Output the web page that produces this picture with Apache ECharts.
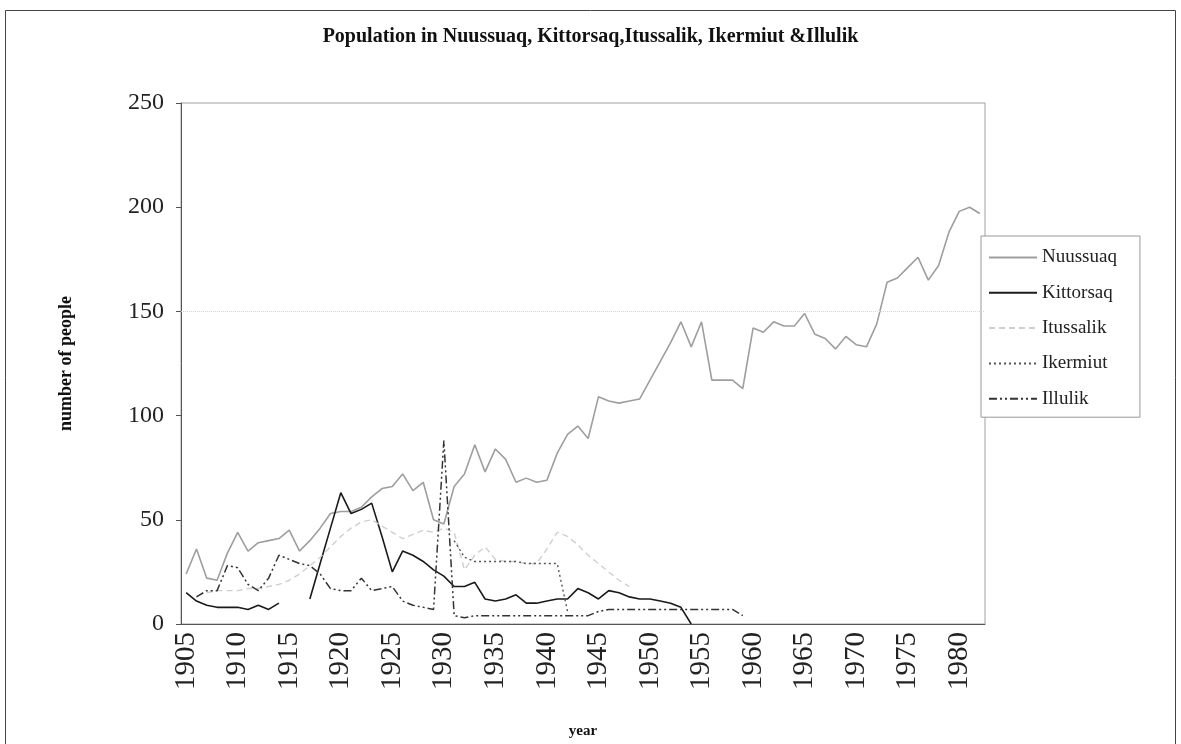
<!DOCTYPE html>
<html>
<head>
<meta charset="utf-8">
<script src="https://cdn.jsdelivr.net/npm/echarts@6/dist/echarts.min.js"></script>
<style>
  html, body { margin: 0; padding: 0; background: #fff; }
  #box { width: 1181px; height: 744px; }
</style>
</head>
<body>
<div id="box"></div>
<script>
// years on the category axis, 1905 .. 1982
var years = [];
for (var y = 1905; y <= 1982; y++) years.push(String(y));

// each series: first year with data, then one value per year
var nuussuaqStart = 1905;
var nuussuaq = [
    24, 36, 22, 21, 34, 44, 35, 39, 40, 41,
    45, 35, 40, 46, 53, 54, 54, 56, 61, 65,
    66, 72, 64, 68, 50, 48, 66, 72, 86, 73,
    84, 79, 68, 70, 68, 69, 82, 91, 95, 89,
    109, 107, 106, 107, 108, 117, 126, 135, 145, 133,
    145, 117, 117, 117, 113, 142, 140, 145, 143, 143,
    149, 139, 137, 132, 138, 134, 133, 144, 164, 166,
    171, 176, 165, 172, 188, 198, 200, 197
];
var kittorsaqStart = 1905;
var kittorsaq = [
    15, 11, 9, 8, 8, 8, 7, 9, 7, 10,
    null, null, 12, 29, 46, 63, 53, 55, 58, 42,
    25, 35, 33, 30, 26, 23, 18, 18, 20, 12,
    11, 12, 14, 10, 10, 11, 12, 12, 17, 15,
    12, 16, 15, 13, 12, 12, 11, 10, 8, 0
];
var itussalikStart = 1907;
var itussalik = [
    15, 16, 16, 16, 17, 17, 18, 19,
    21, 24, 28, 32, 37, 42, 46, 49, 50, 47,
    44, 41, 43, 45, 44, 46, 44, 26, 33, 37,
    31, 30, 30, 29, 29, 36, 44, 42, 38, 33,
    29, 25, 21, 18
];
var ikermiutStart = 1931;
var ikermiut = [40, 32, 30, 30, 30, 30, 30, 29, 29, 29, 29, 6];
var illulikStart = 1906;
var illulik = [
    13, 16, 16, 28, 27, 19, 16, 22, 33,
    31, 29, 28, 24, 17, 16, 16, 22, 16, 17,
    18, 11, 9, 8, 7, 88, 4, 3, 4, 4,
    4, 4, 4, 4, 4, 4, 4, 4, 4, 4,
    6, 7, 7, 7, 7, 7, 7, 7, 7, 7,
    7, 7, 7, 7, 4
];
var seriesNames = ['Nuussuaq', 'Kittorsaq', 'Itussalik', 'Ikermiut', 'Illulik'];

// put a series onto the full year axis
function pad(start, vals) {
    var out = [];
    for (var i = 0; i < years.length; i++) {
        var k = i - (start - 1905);
        out.push(k >= 0 && k < vals.length ? vals[k] : null);
    }
    return out;
}

var serif = 'Liberation Serif';
var dom = document.getElementById('box');
var myChart = echarts.init(dom);

function lineSeries(name, data, color, width, type) {
    return {
        name: name,
        type: 'line',
        data: data,
        symbol: 'none',
        connectNulls: false,
        lineStyle: { color: color, width: width, type: type },
        itemStyle: { color: color },
        emphasis: { disabled: true }
    };
}

var s1 = lineSeries(seriesNames[0], pad(nuussuaqStart, nuussuaq), '#9e9e9e', 1.6, 'solid');
s1.markLine = {
    silent: true,
    symbol: ['none', 'none'],
    label: { show: false },
    lineStyle: { color: '#d4d4d4', type: 'dotted', width: 1 },
    data: [{ yAxis: 150 }]
};

var option = {
    animation: false,
    backgroundColor: '#fff',
    title: {
        text: 'Population in Nuussuaq, Kittorsaq,Itussalik, Ikermiut &Illulik',
        left: 'center',
        top: 22,
        textStyle: { fontFamily: serif, fontWeight: 'bold', fontSize: 20, color: '#111' }
    },
    graphic: [{
        type: 'rect',
        shape: { x: 5.5, y: 10.5, width: 1170, height: 740 },
        style: { fill: 'none', stroke: '#444', lineWidth: 1 },
        silent: true
    }],
    legend: {
        orient: 'vertical',
        left: 981,
        top: 236,
        padding: [12, 23, 9, 7],
        itemGap: 16.3,
        itemWidth: 48,
        itemHeight: 14,
        itemStyle: { opacity: 0 },
        borderColor: '#999',
        borderWidth: 1,
        backgroundColor: '#fff',
        data: seriesNames,
        textStyle: { fontFamily: serif, fontSize: 19, color: '#222' }
    },
    grid: {
        left: 181, right: 196, top: 103, bottom: 119,
        show: true, borderColor: '#a0a0a0', borderWidth: 1
    },
    xAxis: {
        type: 'category',
        data: years,
        boundaryGap: true,
        name: 'year',
        nameLocation: 'middle',
        nameGap: 100,
        nameTextStyle: { fontFamily: serif, fontWeight: 'bold', fontSize: 15, color: '#111' },
        axisLine: { lineStyle: { color: '#555', width: 1 } },
        axisTick: { interval: 0, length: 6, lineStyle: { color: '#777' } },
        axisLabel: { interval: 4, rotate: 90, margin: 8, fontFamily: serif, fontSize: 29, color: '#222' }
    },
    yAxis: {
        type: 'value',
        min: 0, max: 250, interval: 50,
        name: 'number of people',
        nameLocation: 'middle',
        nameGap: 106,
        nameTextStyle: { fontFamily: serif, fontWeight: 'bold', fontSize: 18, color: '#111' },
        axisLine: { show: true, lineStyle: { color: '#555', width: 1 } },
        axisTick: { show: true, length: 5, lineStyle: { color: '#555' } },
        splitLine: { show: false },
        axisLabel: { margin: 17, fontFamily: serif, fontSize: 24, color: '#222' }
    },
    series: [
        s1,
        lineSeries(seriesNames[1], pad(kittorsaqStart, kittorsaq), '#1a1a1a', 1.6, 'solid'),
        lineSeries(seriesNames[2], pad(itussalikStart, itussalik), '#cfcfcf', 1.4, [6, 4]),
        lineSeries(seriesNames[3], pad(ikermiutStart, ikermiut), '#555', 1.4, [2, 3]),
        lineSeries(seriesNames[4], pad(illulikStart, illulik), '#333', 1.5, [8, 3, 2, 3, 2, 3])
    ]
};
if (option && typeof option === 'object') {
    myChart.setOption(option, true);
}
</script>
</body>
</html>
